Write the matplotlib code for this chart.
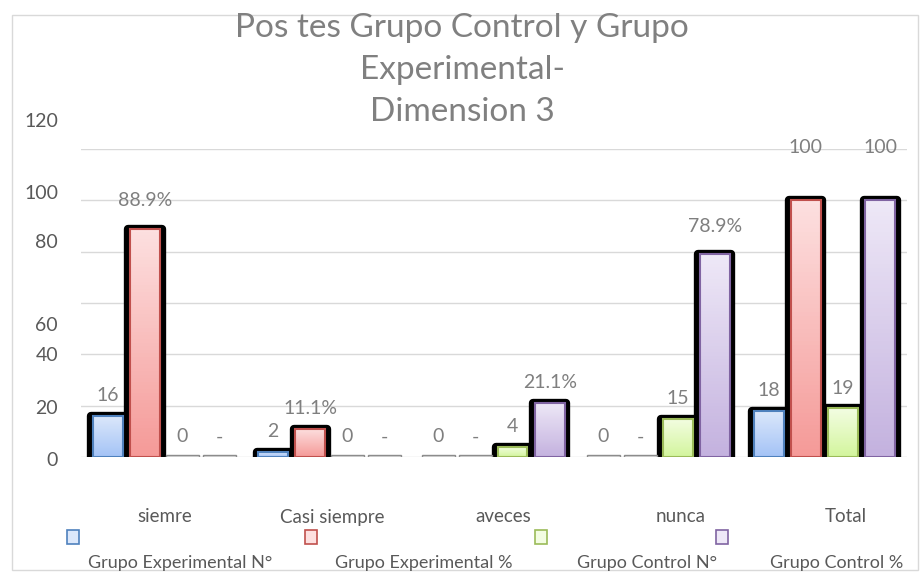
import numpy as np
import matplotlib
matplotlib.use("Agg")
import matplotlib.pyplot as plt
from matplotlib.colors import LinearSegmentedColormap
from matplotlib.patches import Rectangle

plt.rcParams["font.family"] = ["Lato", "DejaVu Sans"]

categories = ["siemre", "Casi siempre", "aveces", "nunca", "Total"]
series_names = ["Grupo Experimental N°", "Grupo Experimental %",
                "Grupo Control N°", "Grupo Control %"]

exp_n = [16, 2, 0, 0, 18]
exp_pct = [88.9, 11.1, 0, 0, 100]
ctrl_n = [0, 0, 4, 15, 19]
ctrl_pct = [0, 0, 21.1, 78.9, 100]

exp_n_labels = ["16", "2", "0", "0", "18"]
exp_pct_labels = ["88.9%", "11.1%", "-", "-", "100"]
ctrl_n_labels = ["0", "0", "4", "15", "19"]
ctrl_pct_labels = ["-", "-", "21.1%", "78.9%", "100"]

y_ticks = [0, 20, 40, 60, 80, 100, 120]

# styling (Excel-like gradients, top -> bottom)
fill_top = ["#dce8fb", "#fde0e0", "#f3fde2", "#eee8f7"]
fill_bottom = ["#a4c3f6", "#f59a98", "#d3f59d", "#c4b2df"]
edge_colors = ["#4f81bd", "#c0504d", "#9bbb59", "#8064a2"]

# odd label placement of the original (pixels)
ytick_shift = [3, 3, 1, 22, -9, -7, -28]
cat_shift = [1, 3, 9, 21, 21]

W, H = 921, 575
fig = plt.figure(figsize=(W / 100, H / 100), dpi=100)
ax = fig.add_axes([81 / W, 1 - 457 / H, 826 / W, 308 / H])
ax.set_xlim(-0.5, 4.5)
ax.set_ylim(0, 120)

ax.set_yticks(y_ticks)
ax.yaxis.grid(True, color="#d9d9d9", lw=1)
ax.set_axisbelow(True)
ax.tick_params(length=0, labelleft=False, labelbottom=False)
for sp in ax.spines.values():
    sp.set_visible(False)

series = [(exp_n, exp_n_labels), (exp_pct, exp_pct_labels),
          (ctrl_n, ctrl_n_labels), (ctrl_pct, ctrl_pct_labels)]
step = 0.225
grad = np.linspace(0, 1, 64).reshape(-1, 1)

for s, (vals, labels) in enumerate(series):
    xs = np.arange(len(categories)) + (s - 1.5) * step
    cmap = LinearSegmentedColormap.from_list("g%d" % s, [fill_bottom[s], fill_top[s]])
    for x, v, lab in zip(xs, vals, labels):
        if v > 0:
            # black rounded "shadow" frame
            ax.bar(x, v, width=0.2, color="black", edgecolor="black", lw=6,
                   joinstyle="round", zorder=2)
            bar = ax.bar(x, v, width=0.18, facecolor="none",
                         edgecolor=edge_colors[s], lw=1.5, zorder=4)[0]
            im = ax.imshow(grad, extent=(x - 0.09, x + 0.09, 0, v), origin="lower",
                           cmap=cmap, aspect="auto", zorder=3)
            im.set_clip_path(bar)
        else:
            ax.bar(x, 0.9, width=0.2, facecolor="#f2f2f2", edgecolor="#8c8c8c",
                   lw=1, zorder=3)
        if v >= 100:
            lift = 53
        elif v > 50:
            lift = 28
        else:
            lift = 20
        ax.annotate(lab, xy=(x, v), xytext=(0, lift), textcoords="offset pixels",
                    ha="center", va="center", fontsize=14, color="#7f7f7f", zorder=5)

ax.set_xlim(-0.5, 4.5)
ax.set_ylim(0, 120)

for v, sh in zip(y_ticks, ytick_shift):
    ax.annotate(str(v), xy=(0, v), xycoords=("axes fraction", "data"),
                xytext=(-23, -sh), textcoords="offset pixels",
                ha="right", va="center", fontsize=14, color="#595959")

for i, (c, sh) in enumerate(zip(categories, cat_shift)):
    ax.annotate(c, xy=(i, 0), xytext=(sh, -60), textcoords="offset pixels",
                ha="center", va="center", fontsize=13.5, color="#595959")

# legend drawn like the original: swatches on one row, names below
swatch_x = [73, 311, 541, 722]
name_x = [88, 335, 577, 770]
for s in range(4):
    fig.patches.append(Rectangle(((swatch_x[s] - 6) / W, 1 - 544 / H), 12 / W, 14 / H,
                                 transform=fig.transFigure, facecolor=fill_top[s],
                                 edgecolor=edge_colors[s], lw=1.2))
    fig.text(name_x[s] / W, 1 - 563 / H, series_names[s], ha="left", va="center",
             fontsize=13, color="#595959")

fig.text(462 / W, 1 - 70 / H, "Pos tes Grupo Control y Grupo\nExperimental-\nDimension 3",
         ha="center", va="center", fontsize=24, color="#808080", linespacing=1.5)

fig.patches.append(Rectangle((12 / W, 5 / H), 906 / W, 555 / H, transform=fig.transFigure,
                             fill=False, edgecolor="#d9d9d9", lw=1))

fig.savefig("out.png", dpi=100)
